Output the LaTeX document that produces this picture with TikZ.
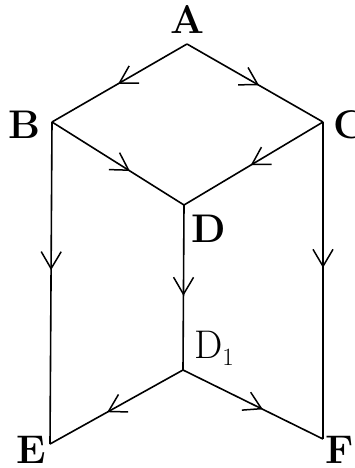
\documentclass[tikz,border=0pt]{standalone}
\usepackage{fontspec}
\usepackage{tikz}
\usetikzlibrary{arrows.meta,decorations.markings}

\begin{document}
\begin{tikzpicture}[x=1pt,y=-1pt,
  edge/.style={line width=1.6pt, postaction={decorate},
    decoration={markings, mark=at position #1 with
      {\arrow{Straight Barb[length=17pt,width=20pt,line width=1.5pt]}}}},
  edge/.default=0.55,
  letter/.style={font=\fontsize{40}{42}\selectfont\bfseries, inner sep=0pt},
  sublabel/.style={font=\fontsize{40}{42}\selectfont, inner sep=0pt}
]
\useasboundingbox (0,0) rectangle (354,468);

% Points
\coordinate (a) at (187,44);
\coordinate (b) at (52,122);
\coordinate (c) at (323,122);
\coordinate (d) at (184,205);
\coordinate (d1) at (183,370);
\coordinate (e) at (50,444);
\coordinate (f) at (323,439);

% Labels
\node[letter] (la) at (187,20) {A};
\node[letter] (lb) at (25,125) {B};
\node[letter] (lc) at (350,125) {C};
\node[letter] (ld) at (209,229) {D};
\node[sublabel, anchor=base west] (ld1) at (194,358) {D$_1$};
\node[letter] (le) at (31,450) {E};
\node[letter] (lf) at (340,450) {F};

% Edges
\draw[edge=0.51] (a) -- (b);
\draw[edge=0.53] (a) -- (c);
\draw[edge=0.59] (b) -- (d);
\draw[edge=0.52] (c) -- (d);
\draw[edge=0.55] (d) -- (d1);
\draw[edge=0.46] (b) -- (e);
\draw[edge=0.46] (c) -- (f);
\draw[edge=0.57] (d1) -- (e);
\draw[edge=0.57] (d1) -- (f);

\end{tikzpicture}
\end{document}
